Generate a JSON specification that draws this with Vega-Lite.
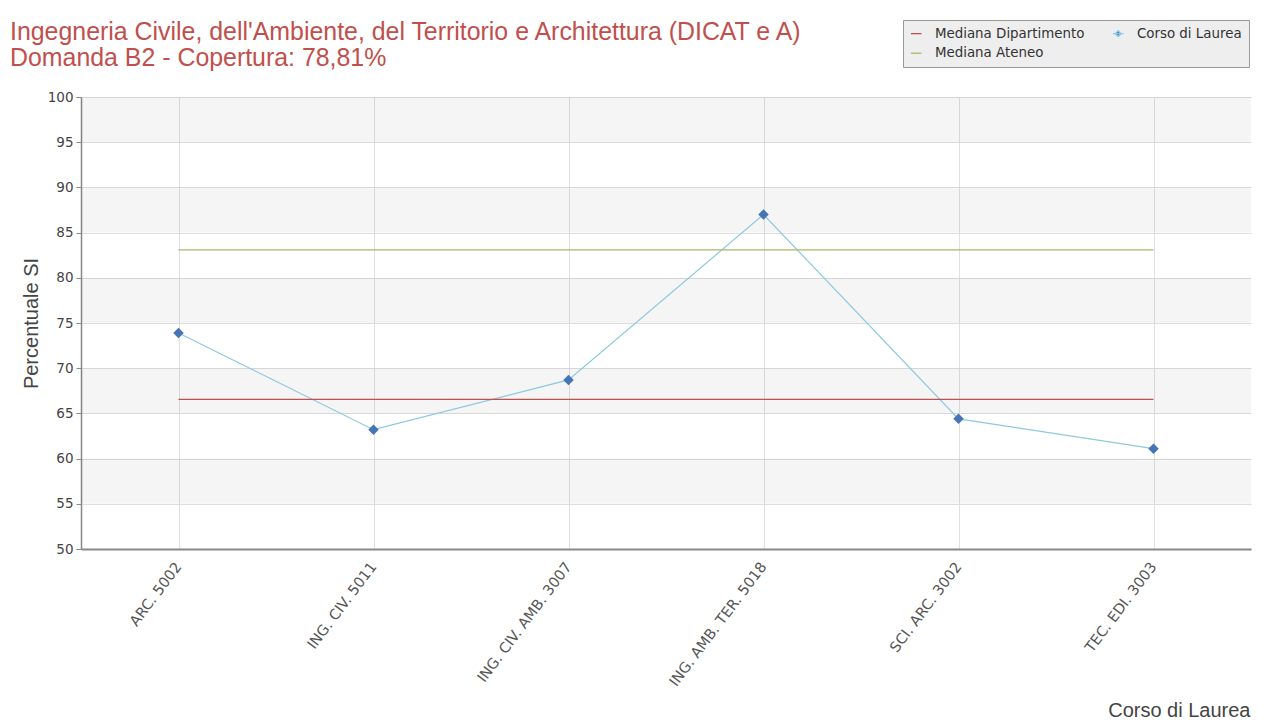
{
  "$schema": "https://vega.github.io/schema/vega-lite/v6.json",
  "width": 1170,
  "height": 452,
  "autosize": {"type": "none"},
  "padding": {"left": 81, "top": 97, "right": 28, "bottom": 173},
  "background": "white",
  "title": {
    "text": ["Ingegneria Civile, dell'Ambiente, del Territorio e Architettura (DICAT e A)", "Domanda B2 - Copertura: 78,81%"],
    "anchor": "start",
    "frame": "group",
    "dx": -71,
    "font": "Liberation Sans",
    "fontSize": 24.9,
    "fontWeight": "normal",
    "color": "#c0504d",
    "lineHeight": 25.5,
    "offset": -51
  },
  "config": {
    "view": {"stroke": null},
    "axisY": {
      "values": [50, 55, 60, 65, 70, 75, 80, 85, 90, 95, 100],
      "grid": true,
      "gridColor": "#dddddd",
      "domainColor": "#888888",
      "domainWidth": 1.5,
      "tickColor": "#888888",
      "tickSize": 5,
      "labelFont": "DejaVu Sans",
      "labelFontSize": 13.5,
      "labelColor": "#444444",
      "labelPadding": 3,
      "titleFont": "Liberation Sans",
      "titleFontSize": 20,
      "titleFontWeight": "normal",
      "titleColor": "#444444",
      "titleAngle": -90,
      "titleX": -44,
      "titleY": 226,
      "titleAlign": "center",
      "titleBaseline": "alphabetic"
    },
    "axisX": {
      "grid": true,
      "gridColor": "#e0e0e0",
      "domainColor": "#888888",
      "domainWidth": 2,
      "ticks": false,
      "labelAngle": -53,
      "labelAlign": "right",
      "labelBaseline": "middle",
      "labelPadding": 15,
      "labelFont": "DejaVu Sans",
      "labelFontSize": 14.5,
      "labelColor": "#555555",
      "labelLimit": 300,
      "titleFont": "Liberation Sans",
      "titleFontSize": 20,
      "titleFontWeight": "normal",
      "titleColor": "#444444",
      "titleX": 1169,
      "titleY": 167,
      "titleAlign": "right",
      "titleBaseline": "alphabetic"
    }
  },
  "datasets": {
    "bands": [
      {"lo": 95, "hi": 100},
      {"lo": 85, "hi": 90},
      {"lo": 75, "hi": 80},
      {"lo": 65, "hi": 70},
      {"lo": 55, "hi": 60}
    ],
    "series": [
      {"corso": "ARC. 5002", "serie": "Corso di Laurea", "valore": 73.9},
      {"corso": "ING. CIV. 5011", "serie": "Corso di Laurea", "valore": 63.2},
      {"corso": "ING. CIV. AMB. 3007", "serie": "Corso di Laurea", "valore": 68.7},
      {"corso": "ING. AMB. TER. 5018", "serie": "Corso di Laurea", "valore": 87.0},
      {"corso": "SCI. ARC. 3002", "serie": "Corso di Laurea", "valore": 64.4},
      {"corso": "TEC. EDI. 3003", "serie": "Corso di Laurea", "valore": 61.1},
      {"corso": "ARC. 5002", "serie": "Mediana Dipartimento", "valore": 66.55},
      {"corso": "ING. CIV. 5011", "serie": "Mediana Dipartimento", "valore": 66.55},
      {"corso": "ING. CIV. AMB. 3007", "serie": "Mediana Dipartimento", "valore": 66.55},
      {"corso": "ING. AMB. TER. 5018", "serie": "Mediana Dipartimento", "valore": 66.55},
      {"corso": "SCI. ARC. 3002", "serie": "Mediana Dipartimento", "valore": 66.55},
      {"corso": "TEC. EDI. 3003", "serie": "Mediana Dipartimento", "valore": 66.55},
      {"corso": "ARC. 5002", "serie": "Mediana Ateneo", "valore": 83.1},
      {"corso": "ING. CIV. 5011", "serie": "Mediana Ateneo", "valore": 83.1},
      {"corso": "ING. CIV. AMB. 3007", "serie": "Mediana Ateneo", "valore": 83.1},
      {"corso": "ING. AMB. TER. 5018", "serie": "Mediana Ateneo", "valore": 83.1},
      {"corso": "SCI. ARC. 3002", "serie": "Mediana Ateneo", "valore": 83.1},
      {"corso": "TEC. EDI. 3003", "serie": "Mediana Ateneo", "valore": 83.1}
    ]
  },
  "layer": [
    {
      "data": {"name": "bands"},
      "mark": {"type": "rect", "color": "#000000", "opacity": 0.04},
      "encoding": {
        "y": {"field": "lo", "type": "quantitative", "title": "Percentuale SI", "scale": {"domain": [50, 100], "nice": false, "zero": false}},
        "y2": {"field": "hi"}
      }
    },
    {
      "data": {"name": "series"},
      "mark": {"type": "line", "strokeWidth": 1.2},
      "encoding": {
        "x": {"field": "corso", "type": "nominal", "sort": null, "title": "Corso di Laurea", "scale": {"type": "point", "padding": 0.5}},
        "y": {"field": "valore", "type": "quantitative", "title": "Percentuale SI"},
        "color": {
          "field": "serie",
          "type": "nominal",
          "scale": {
            "domain": ["Mediana Dipartimento", "Corso di Laurea", "Mediana Ateneo"],
            "range": ["#c0504d", "#8cc8e2", "#a8b865"]
          },
          "legend": {
            "title": null,
            "orient": "none",
            "direction": "horizontal",
            "legendX": 822,
            "legendY": -77,
            "columns": 2,
            "fillColor": "#eeeeee",
            "strokeColor": "#999999",
            "padding": 6.5,
            "labelFont": "DejaVu Sans",
            "labelFontSize": 13.4,
            "labelColor": "#333333",
            "symbolType": "stroke",
            "symbolSize": 110,
            "symbolStrokeWidth": 1.3,
            "labelOffset": 12,
            "columnPadding": 25,
            "rowPadding": 5,
            "encode": {
              "symbols": {
                "update": {
                  "shape": {"signal": "datum.value === 'Corso di Laurea' ? 'M-1,0H1M0,-0.55L0.55,0L0,0.55L-0.55,0Z' : 'stroke'"},
                  "fill": {"signal": "datum.value === 'Corso di Laurea' ? '#4575b5' : 'transparent'"}
                }
              }
            }
          }
        }
      }
    },
    {
      "data": {"name": "series"},
      "transform": [{"filter": "datum.serie === 'Corso di Laurea'"}],
      "mark": {"type": "point", "shape": "diamond", "filled": true, "size": 110, "color": "#4575b5", "opacity": 1},
      "encoding": {
        "x": {"field": "corso", "type": "nominal", "sort": null, "title": "Corso di Laurea"},
        "y": {"field": "valore", "type": "quantitative", "title": "Percentuale SI"}
      }
    }
  ]
}
